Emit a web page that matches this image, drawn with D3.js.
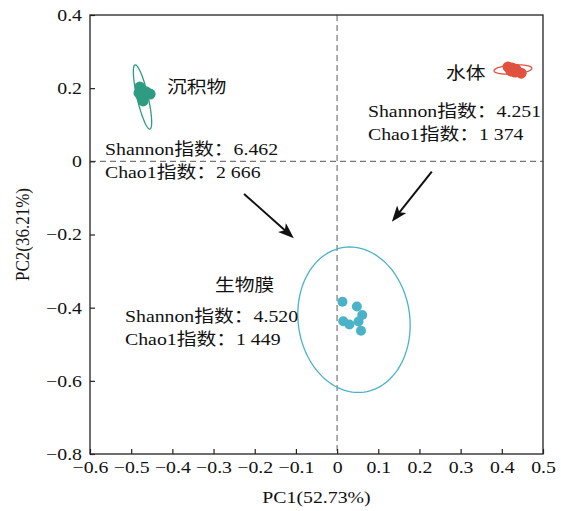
<!DOCTYPE html>
<html>
<head>
<meta charset="utf-8">
<script src="https://cdn.jsdelivr.net/npm/d3@7/dist/d3.min.js"></script>
<style>
  body { margin: 0; background: #fff; }
  text { font-family: "Liberation Serif", "Times New Roman", "Noto Sans CJK SC", serif; fill: #111; }
</style>
</head>
<body>
<svg id="pca"></svg>
<script>
// axis ranges and ticks
const xDomain = [-0.6, 0.5];
const yDomain = [-0.8, 0.4];
const xTicks = [-0.6, -0.5, -0.4, -0.3, -0.2, -0.1, 0, 0.1, 0.2, 0.3, 0.4, 0.5];
const yTicks = [-0.8, -0.6, -0.4, -0.2, 0, 0.2, 0.4];
const xTitle = "PC1(52.73%)";
const yTitle = "PC2(36.21%)";

// groups
const groupNames = ["沉积物", "水体", "生物膜"];
const shannonValues = ["6.462", "4.251", "4.520"];
const chao1Values = ["2 666", "1 374", "1 449"];

// sample scores
const sedimentPC1 = [-0.479, -0.464, -0.454, -0.476, -0.471, -0.481];
const sedimentPC2 = [0.203, 0.190, 0.184, 0.179, 0.165, 0.187];
const waterPC1 = [0.415, 0.425, 0.434, 0.422, 0.432, 0.447];
const waterPC2 = [0.258, 0.255, 0.252, 0.247, 0.244, 0.241];
const biofilmPC1 = [0.013, 0.048, 0.061, 0.015, 0.030, 0.052, 0.058];
const biofilmPC2 = [-0.384, -0.397, -0.420, -0.437, -0.446, -0.438, -0.463];

// confidence ellipses: centre, half axes (data units), tilt (deg)
const ellipseCX = [-0.4725, 0.427, 0.041];
const ellipseCY = [0.176, 0.251, -0.433];
const ellipseRX = [0.0134, 0.046, 0.1355];
const ellipseRY = [0.090, 0.0123, 0.1996];
const ellipseTilt = [-13, -4, -8];

// arrows (data units)
const arrowFrom = [[-0.226, -0.089], [0.230, -0.028]];
const arrowTo = [[-0.105, -0.210], [0.133, -0.165]];

// layout of annotations
const labelPos = [[-0.413, 0.187], [0.2645, 0.225], [-0.2965, -0.3545]];
const statsPos = [[-0.5636, 0.0173], [0.075, 0.1212], [-0.515, -0.439]];
const colors = ["#2e9c82", "#e0523f", "#4ab3c7"];
const pointR = [5.5, 5.5, 5];

const W = 561, H = 511;
const margin = {top: 15, right: 18, bottom: 57, left: 90};
const width = W - margin.left - margin.right;
const height = H - margin.top - margin.bottom;
const fs = 17, sx = 1.165;   // font size, horizontal stretch of the text

const svg = d3.select("#pca").attr("width", W).attr("height", H);
const g = svg.append("g").attr("transform", `translate(${margin.left},${margin.top})`);

const x = d3.scaleLinear().domain(xDomain).range([0, width]);
const y = d3.scaleLinear().domain(yDomain).range([height, 0]);

const fmt = v => Math.abs(v) < 1e-9 ? "0" : (v < 0 ? "\u2212" : "") + Math.abs(v).toFixed(1);

function addText(parent, px, py, str, anchor) {
  return parent.append("text")
    .attr("transform", `translate(${px},${py}) scale(${sx},1)`)
    .attr("text-anchor", anchor || "start")
    .style("font-size", fs + "px")
    .text(str);
}

// dashed zero lines
g.append("line")
  .attr("x1", x(0)).attr("x2", x(0)).attr("y1", 0).attr("y2", height)
  .attr("stroke", "#777").attr("stroke-width", 1.2).attr("stroke-dasharray", "6,4");
g.append("line")
  .attr("x1", 0).attr("x2", width).attr("y1", y(0)).attr("y2", y(0))
  .attr("stroke", "#777").attr("stroke-width", 1.2).attr("stroke-dasharray", "6,4");

// axes
const xAxis = g.append("g")
  .attr("transform", `translate(0,${height})`)
  .call(d3.axisBottom(x).tickValues(xTicks).tickFormat(fmt).tickSizeInner(-5).tickSizeOuter(0).tickPadding(7));
const yAxis = g.append("g")
  .call(d3.axisLeft(y).tickValues(yTicks).tickFormat(fmt).tickSizeInner(-5).tickSizeOuter(0));

[xAxis, yAxis].forEach(a => {
  a.select(".domain").remove();
  a.selectAll(".tick line").attr("stroke", "#222").attr("stroke-width", 1.2);
  a.selectAll("text").attr("font-family", null).style("font-size", fs + "px").attr("fill", "#111");
});
xAxis.selectAll("text").attr("transform", `scale(${sx},1)`);
yAxis.selectAll("text").attr("x", -8 / sx).attr("transform", `scale(${sx},1)`);

// frame
g.append("rect")
  .attr("width", width).attr("height", height)
  .attr("fill", "none").attr("stroke", "#222").attr("stroke-width", 1.3);

// axis titles
addText(svg, margin.left + width / 2, 503, xTitle, "middle");
svg.append("text")
  .attr("transform", `translate(29,${margin.top + height / 2}) scale(${sx},1) rotate(-90)`)
  .attr("text-anchor", "middle")
  .style("font-size", fs + "px")
  .text(yTitle);

// ellipses
function ellipsePath(i) {
  const cx = x(ellipseCX[i]), cy = y(ellipseCY[i]);
  const a = x(ellipseCX[i] + ellipseRX[i]) - cx;
  const b = cy - y(ellipseCY[i] + ellipseRY[i]);
  const th = ellipseTilt[i] * Math.PI / 180;
  const pts = d3.range(0, 360, 3).map(deg => {
    const t = deg * Math.PI / 180;
    const dx = a * Math.cos(t), dy = b * Math.sin(t);
    return [cx + dx * Math.cos(th) - dy * Math.sin(th), cy + dx * Math.sin(th) + dy * Math.cos(th)];
  });
  return d3.line()(pts) + "Z";
}
groupNames.forEach((n, i) => {
  g.append("path")
    .attr("d", ellipsePath(i))
    .attr("fill", "none").attr("stroke", colors[i]).attr("stroke-width", 1.3);
});

// points
const scores = [
  [sedimentPC1, sedimentPC2],
  [waterPC1, waterPC2],
  [biofilmPC1, biofilmPC2]
];
scores.forEach((s, i) => {
  g.selectAll(null)
    .data(d3.zip(s[0], s[1]))
    .enter().append("circle")
    .attr("cx", d => x(d[0]))
    .attr("cy", d => y(d[1]))
    .attr("r", pointR[i])
    .attr("fill", colors[i]);
});

// arrows
svg.append("defs").append("marker")
  .attr("id", "head")
  .attr("viewBox", "0 0 16 12")
  .attr("refX", 10).attr("refY", 6)
  .attr("markerWidth", 16).attr("markerHeight", 12)
  .attr("markerUnits", "userSpaceOnUse")
  .attr("orient", "auto")
  .append("path").attr("d", "M0,0 L16,6 L0,12 L4,6 Z").attr("fill", "#111");

arrowFrom.forEach((f, i) => {
  const x1 = x(f[0]), y1 = y(f[1]);
  const x2 = x(arrowTo[i][0]), y2 = y(arrowTo[i][1]);
  const len = Math.hypot(x2 - x1, y2 - y1);
  g.append("line")
    .attr("x1", x1).attr("y1", y1)
    .attr("x2", x2 - (x2 - x1) / len * 6).attr("y2", y2 - (y2 - y1) / len * 6)
    .attr("stroke", "#111").attr("stroke-width", 2)
    .attr("marker-end", "url(#head)");
});

// group labels and diversity indices
groupNames.forEach((n, i) => {
  addText(g, x(labelPos[i][0]), y(labelPos[i][1]), n);
  addText(g, x(statsPos[i][0]), y(statsPos[i][1]), "Shannon指数：" + shannonValues[i]);
  addText(g, x(statsPos[i][0]), y(statsPos[i][1]) + 23, "Chao1指数：" + chao1Values[i]);
});
</script>
</body>
</html>
